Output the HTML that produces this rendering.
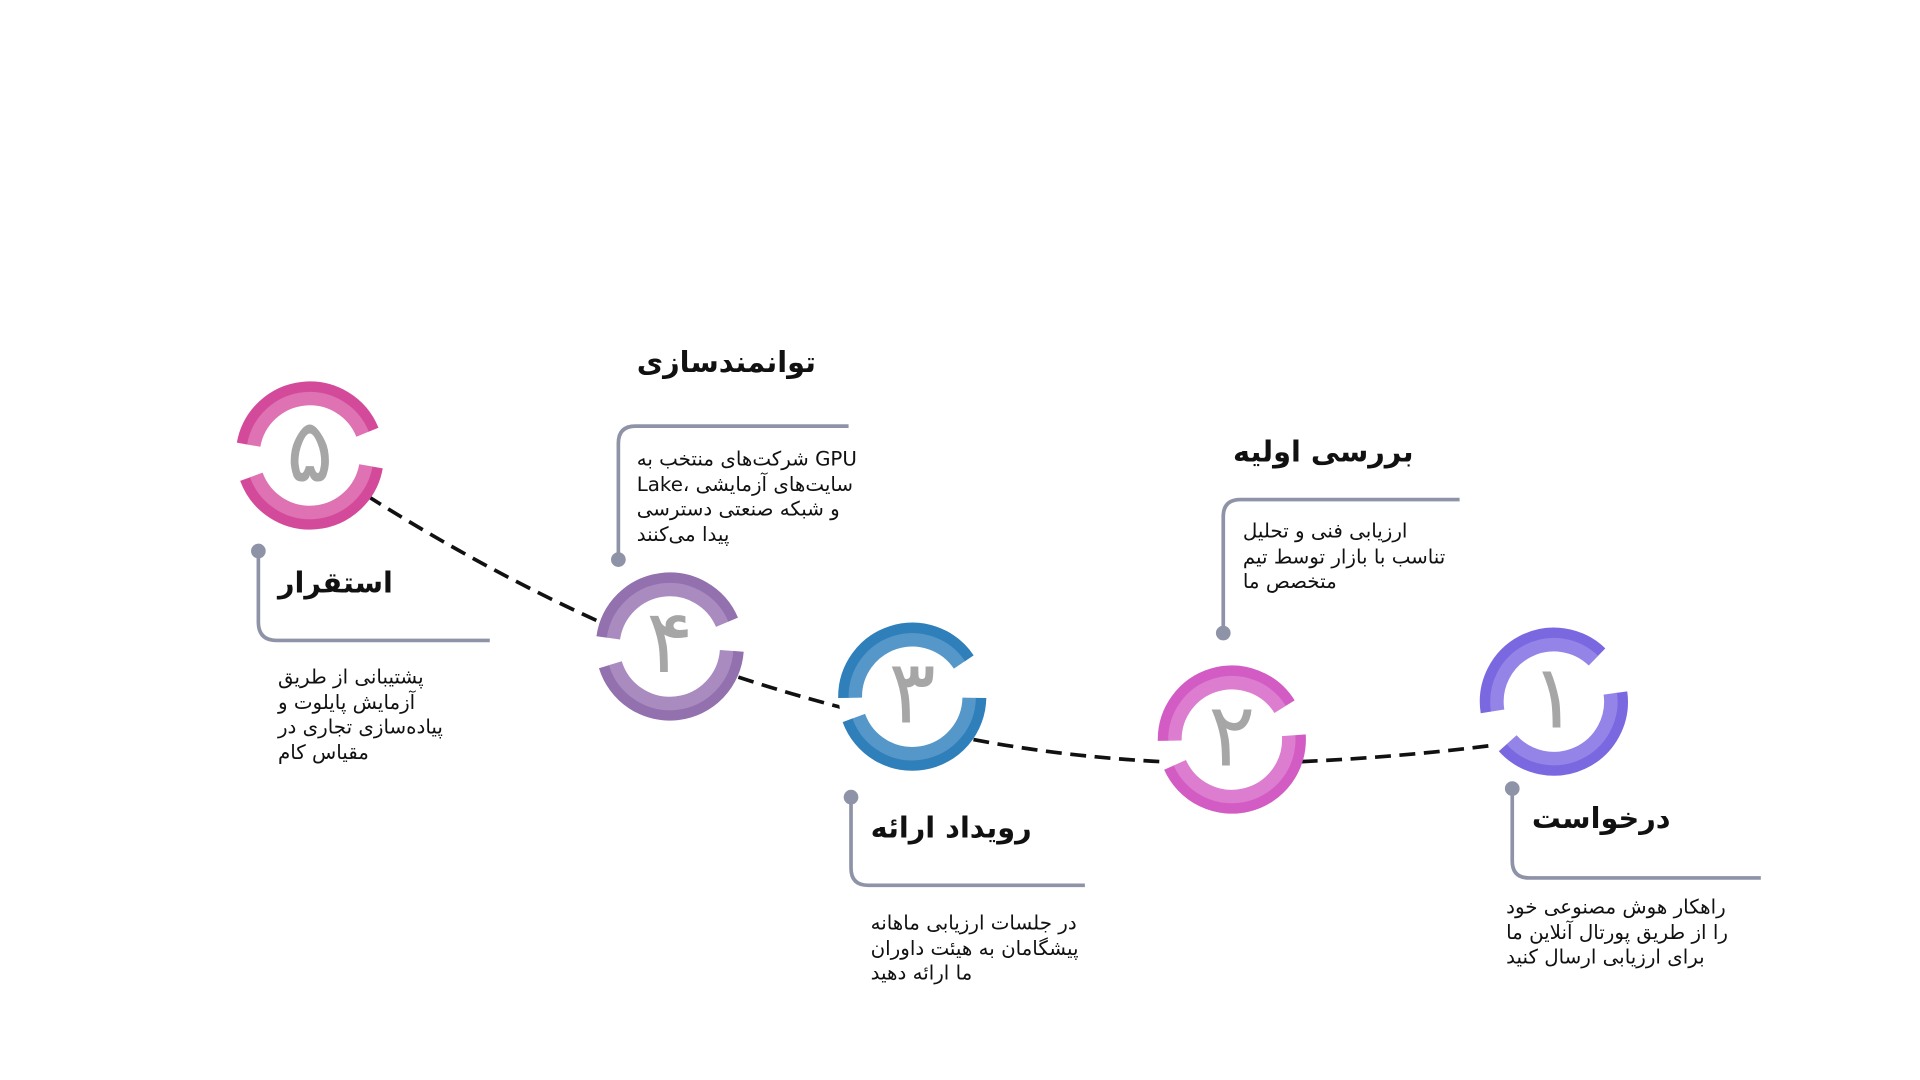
<!DOCTYPE html>
<html><head><meta charset="utf-8">
<style>
html,body{margin:0;padding:0;background:#fff;width:1920px;height:1080px;overflow:hidden}
#w{position:absolute;left:0;top:0;width:1568px;height:882px;transform:scale(1.22449);transform-origin:0 0;font-family:"DejaVu Sans","Liberation Sans",sans-serif;}
svg{position:absolute;left:0;top:0}
.t{position:absolute;direction:rtl;white-space:nowrap;color:#111;}
.h{font-weight:bold;font-size:23.5px;line-height:30px;}
.d{font-size:16.2px;line-height:20.5px;text-align:left;}
.n{position:absolute;width:120px;text-align:center;color:#a6a6a6;font-size:72px;line-height:70px;}
</style></head><body>
<div id="w">
<svg id="s" width="1568" height="882" viewBox="0 0 1568 882">
<g fill="none" stroke="#111" stroke-width="3" stroke-dasharray="13,7">
<path d="M300 405 Q395 465 490 508"/>
<path d="M603 553 Q655 570 708 583"/>
<path d="M795 604 Q880 620 972 623"/>
<path d="M1063 622 Q1150 618 1232 607"/>
</g>
<g fill="none" stroke="#8e93a8" stroke-width="3">
<path d="M211 450 V508 Q211 523 226 523 H400"/>
<path d="M505 457 V362 Q505 348 519 348 H693"/>
<path d="M695 651 V709 Q695 723 709 723 H886"/>
<path d="M999 517 V422 Q999 408 1013 408 H1192"/>
<path d="M1235 644 V703 Q1235 717 1249 717 H1438"/>
</g>
<g fill="#8e93a8">
<circle cx="211" cy="450" r="6"/><circle cx="505" cy="457" r="6"/>
<circle cx="695" cy="651" r="6"/><circle cx="999" cy="517" r="6"/>
<circle cx="1235" cy="644" r="6"/>
</g>
<g id="rings"></g>
</svg>
<div class="n" style="left:193px;top:333px">۵</div>
<div class="n" style="left:487px;top:489px">۴</div>
<div class="n" style="left:685px;top:530px">۳</div>
<div class="n" style="left:946px;top:565px">۲</div>
<div class="n" style="left:1209px;top:534px">۱</div>

<div class="t h" style="left:520px;top:281px">توانمندسازی</div>
<div class="t d" style="left:520px;top:365px">GPU شرکت‌های منتخب به<br>سایت‌های آزمایشی ،Lake<br>و شبکه صنعتی دسترسی<br>پیدا می‌کنند</div>

<div class="t h" style="left:227px;top:461px">استقرار</div>
<div class="t d" style="left:227px;top:543px">پشتیبانی از طریق<br>آزمایش پایلوت و<br>پیاده‌سازی تجاری در<br>مقیاس کام</div>

<div class="t h" style="left:711px;top:661px">رویداد ارائه</div>
<div class="t d" style="left:711px;top:744px">در جلسات ارزیابی ماهانه<br>پیشگامان به هیئت داوران<br>ما ارائه دهید</div>

<div class="t h" style="left:1007px;top:354px">بررسی اولیه</div>
<div class="t d" style="left:1015px;top:424px">ارزیابی فنی و تحلیل<br>تناسب با بازار توسط تیم<br>متخصص ما</div>

<div class="t h" style="left:1251px;top:653px">درخواست</div>
<div class="t d" style="left:1230px;top:731px">راهکار هوش مصنوعی خود<br>را از طریق پورتال آنلاین ما<br>برای ارزیابی ارسال کنید</div>
</div>
<script>
var C=[
 [253,372,'#d44a9b','#de72b3',22,170,200,350],
 [547,528,'#9370ae','#a98bc0',23,172,197,356],
 [745,569,'#2e7fba','#5597c9',34,181,200,359],
 [1006,604,'#d35bc4','#dc7dd0',32,181,204,364],
 [1269,573,'#7a68e0','#9484e8',46,189,222,368]];
function arc(cx,cy,r,a1,a2){
 var p=Math.PI/180;
 var x1=cx+r*Math.cos(a1*p),y1=cy-r*Math.sin(a1*p),x2=cx+r*Math.cos(a2*p),y2=cy-r*Math.sin(a2*p);
 var large=(a2-a1)>180?1:0;
 return 'M'+x1.toFixed(2)+' '+y1.toFixed(2)+' A'+r+' '+r+' 0 '+large+' 0 '+x2.toFixed(2)+' '+y2.toFixed(2);
}
var h='';
C.forEach(function(c){
 h+='<circle cx="'+c[0]+'" cy="'+c[1]+'" r="60" fill="#fff"/>';
 [[c[4],c[5]],[c[6],c[7]]].forEach(function(a){
  h+='<path d="'+arc(c[0],c[1],56,a[0],a[1])+'" stroke="'+c[2]+'" stroke-width="9" fill="none"/>';
  h+='<path d="'+arc(c[0],c[1],46.5,a[0],a[1])+'" stroke="'+c[3]+'" stroke-width="11" fill="none"/>';
 });
});
document.getElementById('rings').innerHTML=h;
</script>
</body></html>
